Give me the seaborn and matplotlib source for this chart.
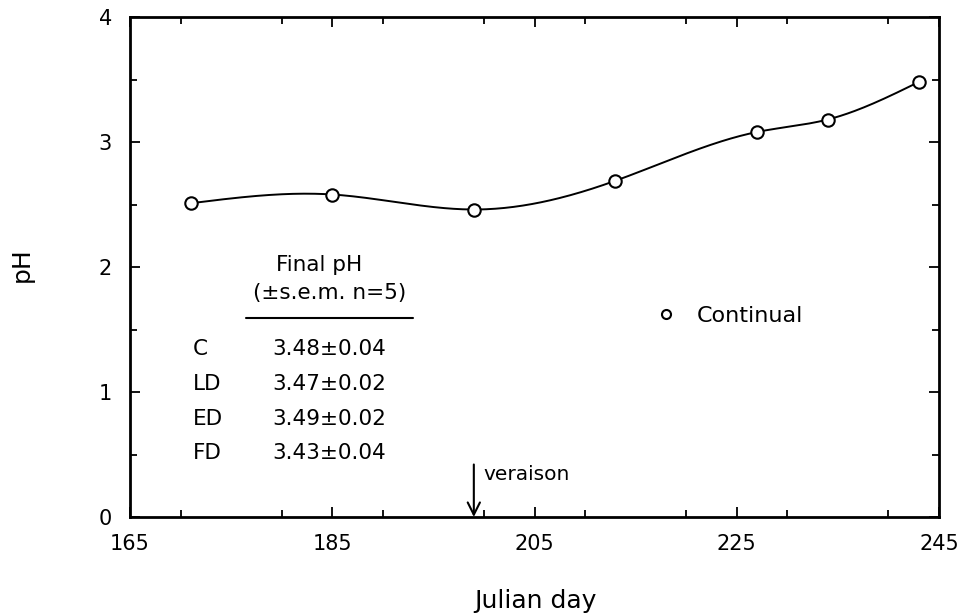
import numpy as np
import pandas as pd
import matplotlib
matplotlib.use("Agg")
import matplotlib.pyplot as plt
from matplotlib.lines import Line2D
from matplotlib.ticker import MultipleLocator
import seaborn as sns

# ---- data ----
julian_day = [171, 185, 199, 213, 227, 234, 243]
ph_values = [2.51, 2.58, 2.46, 2.69, 3.08, 3.18, 3.48]
series_label = "Continual"
x_ticks = [165, 185, 205, 225, 245]
y_ticks = [0, 1, 2, 3, 4]
veraison_day = 199
table_title = ["Final pH", "(\u00b1s.e.m. n=5)"]
table_groups = ["C", "LD", "ED", "FD"]
table_values = ["3.48\u00b10.04", "3.47\u00b10.02", "3.49\u00b10.02", "3.43\u00b10.04"]

df = pd.DataFrame({"day": julian_day, "pH": ph_values})

sns.set_theme(style="ticks")
plt.rcParams["font.family"] = ["DejaVu Sans"]
plt.rcParams.update({"text.color": "black", "axes.labelcolor": "black",
                     "xtick.color": "black", "ytick.color": "black",
                     "axes.edgecolor": "black"})

W, H = 977, 616
fig = plt.figure(figsize=(W / 100, H / 100), dpi=100)
ax = fig.add_axes([130 / W, 1 - 517 / H, (939 - 130) / W, (517 - 17) / H])


def natural_spline(x, y, n=400):
    x = np.asarray(x, float)
    y = np.asarray(y, float)
    k = len(x)
    h = np.diff(x)
    A = np.zeros((k, k))
    b = np.zeros(k)
    A[0, 0] = 1
    A[-1, -1] = 1
    for i in range(1, k - 1):
        A[i, i - 1] = h[i - 1]
        A[i, i] = 2 * (h[i - 1] + h[i])
        A[i, i + 1] = h[i]
        b[i] = 3 * ((y[i + 1] - y[i]) / h[i] - (y[i] - y[i - 1]) / h[i - 1])
    c = np.linalg.solve(A, b)
    xs = np.linspace(x[0], x[-1], n)
    ys = np.empty_like(xs)
    for j, xv in enumerate(xs):
        i = min(np.searchsorted(x, xv, side="right") - 1, k - 2)
        dx = xv - x[i]
        bi = (y[i + 1] - y[i]) / h[i] - h[i] * (2 * c[i] + c[i + 1]) / 3
        di = (c[i + 1] - c[i]) / (3 * h[i])
        ys[j] = y[i] + bi * dx + c[i] * dx ** 2 + di * dx ** 3
    return xs, ys


xs, ys = natural_spline(df["day"], df["pH"])
ax.plot(xs, ys, color="black", lw=1.4, zorder=2)
sns.scatterplot(data=df, x="day", y="pH", ax=ax, marker="o", s=80,
                facecolor="white", edgecolor="black", linewidth=1.5, zorder=3)

ax.set_xlim(165, 245)
ax.set_ylim(0, 4)
ax.set_xticks(x_ticks)
ax.set_yticks(y_ticks)
ax.xaxis.set_minor_locator(MultipleLocator(10))
ax.yaxis.set_minor_locator(MultipleLocator(0.5))
ax.tick_params(which="both", direction="in", top=True, right=True,
               color="black", width=1.3)
ax.tick_params(which="major", length=7, labelsize=15, labelcolor="black")
ax.tick_params(which="minor", length=5)
ax.tick_params(axis="x", which="major", pad=12)
ax.tick_params(axis="y", which="major", pad=13)
for sp in ax.spines.values():
    sp.set_linewidth(2)
    sp.set_color("black")

ax.set_xlabel("")
ax.set_ylabel("")
fig.text(22 / W, 1 - 265 / H, "pH", rotation=90, ha="center", va="center", fontsize=18)
fig.text(535 / W, 1 - 601 / H, "Julian day", ha="center", va="center", fontsize=18)

# veraison arrow
ax.annotate("", xy=(veraison_day, 0.0), xytext=(veraison_day, 0.42),
            arrowprops=dict(arrowstyle="->", lw=1.5, color="black",
                            mutation_scale=22, shrinkA=0, shrinkB=0))
ax.text(veraison_day + 0.9, 0.3, "veraison", fontsize=14.5, ha="left", va="baseline")

# table
def fx(px):
    return px / W


def fy(py):
    return 1 - py / H


fs_tab = 15.5
fig.text(fx(319), fy(265), table_title[0], ha="center", va="center", fontsize=fs_tab)
fig.text(fx(330), fy(293), table_title[1], ha="center", va="center", fontsize=fs_tab)
fig.add_artist(Line2D([fx(246), fx(413)], [fy(318), fy(318)], color="black", lw=1.5))
row_y = [349, 384, 419, 453]
for g, v, yy in zip(table_groups, table_values, row_y):
    fig.text(fx(193), fy(yy), g, ha="left", va="center", fontsize=fs_tab)
    fig.text(fx(272), fy(yy), v, ha="left", va="center", fontsize=fs_tab)

# legend
handle = Line2D([], [], marker="o", ls="none", markersize=6.5,
                markerfacecolor="white", markeredgecolor="black", markeredgewidth=1.5)
ax.legend([handle], [series_label], loc="center left",
          bbox_to_anchor=((655 - 130) / (939 - 130), (517 - 316) / 500),
          frameon=False, fontsize=16, handlelength=1.0, handletextpad=0.9,
          borderpad=0, borderaxespad=0, labelcolor="black")

fig.savefig("out.png", dpi=100, facecolor="white")
